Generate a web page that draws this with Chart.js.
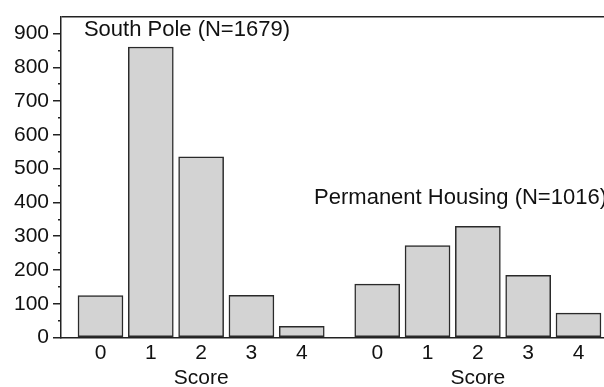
<!DOCTYPE html>
<html>
<head>
<meta charset="utf-8">
<script src="https://cdn.jsdelivr.net/npm/chart.js@4.4.1/dist/chart.umd.min.js"></script>
<style>
  html, body { margin: 0; padding: 0; background: #fff; }
  #wrap { width: 604px; height: 387px; }
</style>
</head>
<body>
<div id="wrap"><canvas id="scoreChart"></canvas></div>
<script>
var scores = ["0", "1", "2", "3", "4"];
var southPole = [124, 860, 535, 125, 33];
var permanentHousing = [158, 272, 329, 184, 72];
var groupTitles = ["South Pole (N=1679)", "Permanent Housing (N=1016)"];
var axisTitle = "Score";

// second group starts 1.5 slots after the first one ends
var second = scores.length + 0.5;
var font = "'Liberation Sans', Arial, Helvetica, sans-serif";
var ink = "#222";

function points(vals, start) {
  return vals.map(function (v, i) { return { x: start + i, y: v }; });
}
var tickPos = scores.map(function (s, i) { return i; })
  .concat(scores.map(function (s, i) { return second + i; }));

var groupLabels = {
  id: "groupLabels",
  afterDatasetsDraw: function (chart) {
    var c = chart.ctx, xs = chart.scales.x, ys = chart.scales.y;
    c.save();
    c.font = "22px " + font;
    c.fillStyle = "#111";
    c.textBaseline = "middle";
    c.textAlign = "left";
    c.fillText(groupTitles[0], xs.getPixelForValue(-0.33), ys.getPixelForValue(911));
    c.fillText(groupTitles[1], xs.getPixelForValue(second - 1.255), ys.getPixelForValue(412));
    c.restore();
  }
};

new Chart("scoreChart", {
  type: "bar",
  data: {
    datasets: [{
      data: points(southPole, 0),
      backgroundColor: "#d3d3d3",
      borderColor: "#2a2a2a",
      borderWidth: 1.5,
      borderSkipped: false,
      barThickness: 45,
      grouped: false
    }, {
      data: points(permanentHousing, second),
      backgroundColor: "#d3d3d3",
      borderColor: "#2a2a2a",
      borderWidth: 1.5,
      borderSkipped: false,
      barThickness: 45,
      grouped: false
    }]
  },
  options: {
    responsive: true,
    maintainAspectRatio: false,
    animation: false,
    layout: { padding: { top: 10, right: 0, left: 0, bottom: 0 } },
    plugins: { legend: { display: false }, tooltip: { enabled: false } },
    scales: {
      x: {
        type: "linear",
        position: "bottom",
        offset: false,
        min: -0.785,
        max: second + 4.507,
        afterBuildTicks: function (s) {
          s.ticks = tickPos.map(function (v) { return { value: v }; });
        },
        afterFit: function (s) { s.height = 24; },
        ticks: {
          autoSkip: false, maxRotation: 0, padding: 3,
          color: "#111", font: { family: font, size: 21 },
          callback: function (v) {
            return v >= second ? scores[Math.round(v - second)] : scores[Math.round(v)];
          }
        },
        grid: { display: false, drawTicks: false },
        border: { display: true, color: ink, width: 1.5 }
      },
      x2: {
        type: "linear",
        position: "bottom",
        offset: false,
        min: -0.785,
        max: second + 4.507,
        afterBuildTicks: function (s) {
          s.ticks = [{ value: 2 }, { value: second + 2 }];
        },
        afterFit: function (s) { s.height = 25.5; },
        ticks: {
          autoSkip: false, maxRotation: 0, padding: 4,
          color: "#111", font: { family: font, size: 21 },
          callback: function () { return axisTitle; }
        },
        grid: { display: false, drawTicks: false },
        border: { display: false }
      },
      y: {
        min: 0,
        max: 950,
        afterFit: function (s) { s.width = 61; },
        ticks: {
          stepSize: 50, maxTicksLimit: 30, autoSkip: false, padding: 4,
          color: "#111", font: { family: font, size: 21 },
          callback: function (v) { return (v % 100 === 0 && v < 950) ? v : ""; }
        },
        grid: {
          lineWidth: 1.5,
          tickLength: 8,
          color: function (ctx) { return ctx.tick && ctx.tick.value === 950 ? ink : "rgba(0,0,0,0)"; },
          tickColor: function (ctx) { return ctx.tick && ctx.tick.value === 950 ? "rgba(0,0,0,0)" : ink; },
          tickWidth: 1.5,
          tickBorderDash: function (ctx) { return ctx.tick && ctx.tick.value % 100 === 50 ? [3, 5] : []; },
          tickBorderDashOffset: function (ctx) { return ctx.tick && ctx.tick.value % 100 === 50 ? 3 : 0; }
        },
        border: { display: true, color: ink, width: 1.5 }
      }
    }
  },
  plugins: [groupLabels]
});
</script>
</body>
</html>
